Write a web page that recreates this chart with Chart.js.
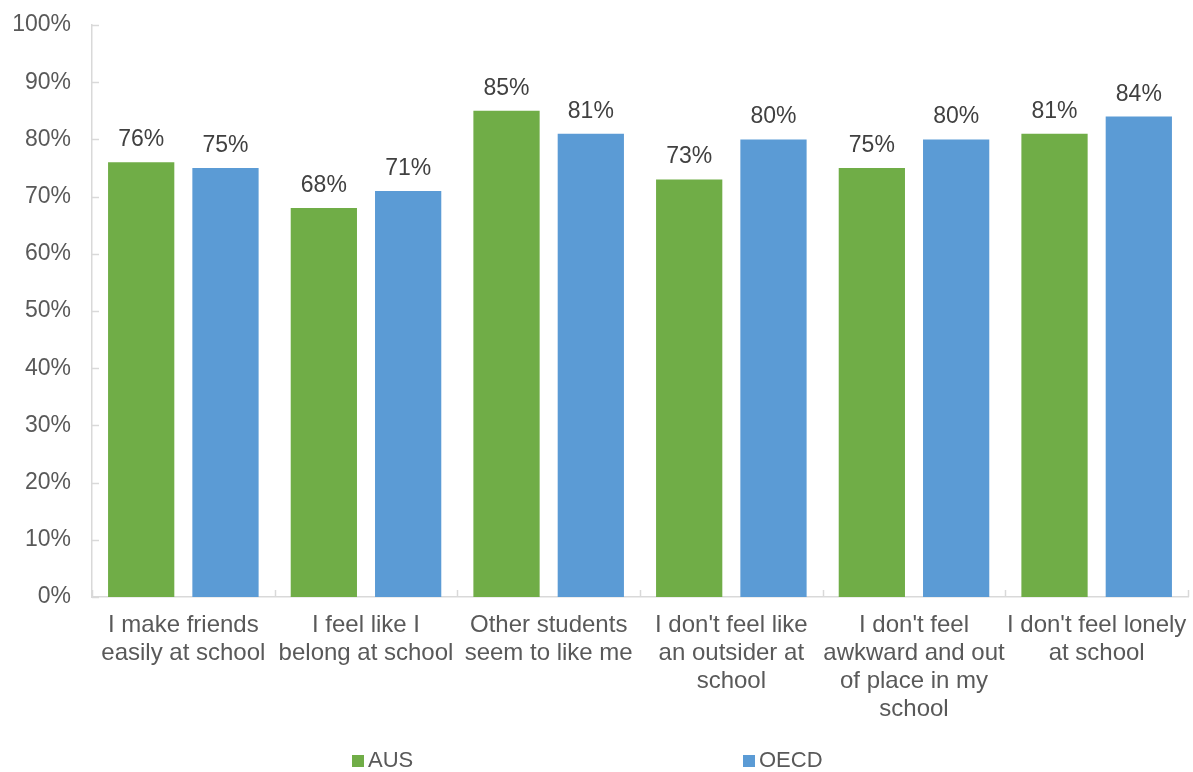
<!DOCTYPE html>
<html>
<head>
<meta charset="utf-8">
<script src="https://cdn.jsdelivr.net/npm/chart.js@4/dist/chart.umd.min.js"></script>
<style>
  html, body { margin: 0; padding: 0; background: #fff; }
  #wrap { width: 1193px; height: 772px; }
</style>
</head>
<body>
<div id="wrap"><canvas id="chart" width="1193" height="772"></canvas></div>
<script>
const categories = [
    ['I make friends', 'easily at school'],
    ['I feel like I', 'belong at school'],
    ['Other students', 'seem to like me'],
    ["I don't feel like", 'an outsider at', 'school'],
    ["I don't feel", 'awkward and out', 'of place in my', 'school'],
    ["I don't feel lonely", 'at school']
];
const ausValues = [76, 68, 85, 73, 75, 81];
const oecdValues = [75, 71, 81, 80, 80, 84];
const yTicks = [0, 10, 20, 30, 40, 50, 60, 70, 80, 90, 100];

const textColor = '#595959';
const axisColor = '#d9d9d9';
const fontFamily = '"Liberation Sans", Arial, sans-serif';

// value labels above each bar
const barLabels = {
    id: 'barLabels',
    afterDatasetsDraw(chart) {
        const ctx = chart.ctx;
        ctx.save();
        ctx.font = '23px ' + fontFamily;
        ctx.fillStyle = '#404040';
        ctx.textAlign = 'center';
        ctx.textBaseline = 'alphabetic';
        chart.data.datasets.forEach((ds, i) => {
            chart.getDatasetMeta(i).data.forEach((bar, j) => {
                ctx.fillText(ds.data[j] + '%', bar.x, bar.y - 16);
            });
        });
        ctx.restore();
    }
};

// small inward tick marks like the original
const innerTicks = {
    id: 'innerTicks',
    afterDraw(chart) {
        const ctx = chart.ctx;
        const y = chart.scales.y;
        const area = chart.chartArea;
        ctx.save();
        ctx.strokeStyle = axisColor;
        ctx.lineWidth = 1.5;
        ctx.beginPath();
        yTicks.forEach(t => {
            const py = Math.round(y.getPixelForValue(t)) + 0.5;
            ctx.moveTo(area.left, py);
            ctx.lineTo(area.left + 7, py);
        });
        for (let i = 0; i <= categories.length; i++) {
            const px = Math.round(area.left + (area.right - area.left) * i / categories.length) + 0.5;
            ctx.moveTo(px, area.bottom);
            ctx.lineTo(px, area.bottom - 7);
        }
        ctx.stroke();
        ctx.restore();
    }
};

// legend with wide spacing between the two entries
const spreadLegend = {
    id: 'spreadLegend',
    afterDraw(chart) {
        const ctx = chart.ctx;
        const starts = [352, 743];
        ctx.save();
        ctx.font = '22px ' + fontFamily;
        ctx.textBaseline = 'middle';
        ctx.textAlign = 'left';
        chart.data.datasets.forEach((ds, i) => {
            ctx.fillStyle = ds.backgroundColor;
            ctx.fillRect(starts[i], 755, 12, 12);
            ctx.fillStyle = textColor;
            ctx.fillText(ds.label, starts[i] + 16, 761);
        });
        ctx.restore();
    }
};

new Chart(document.getElementById('chart'), {
    type: 'bar',
    data: {
        labels: categories,
        datasets: [{
            label: 'AUS',
            data: ausValues,
            backgroundColor: '#70ad47',
            categoryPercentage: 0.923,
            barPercentage: 0.786
        },
        {
            label: 'OECD',
            data: oecdValues,
            backgroundColor: '#5b9bd5',
            categoryPercentage: 0.923,
            barPercentage: 0.786
        }]
    },
    options: {
        responsive: false,
        animation: false,
        layout: {
            padding: { top: 25, right: 5, bottom: 0, left: 0 }
        },
        plugins: {
            legend: { display: false },
            tooltip: { enabled: false }
        },
        scales: {
            x: {
                grid: { display: false, drawTicks: false },
                border: { color: axisColor, width: 1.5 },
                ticks: {
                    color: textColor,
                    font: { family: fontFamily, size: 24, lineHeight: 1.17 },
                    padding: 14,
                    maxRotation: 0,
                    autoSkip: false
                },
                afterFit(scale) {
                    scale.height = 175;
                    scale.paddingLeft = 0;
                    scale.paddingRight = 0;
                }
            },
            y: {
                min: 0,
                max: 100,
                grid: { display: false, drawTicks: false },
                border: { color: axisColor, width: 1.5 },
                ticks: {
                    stepSize: 10,
                    color: textColor,
                    font: { family: fontFamily, size: 23 },
                    padding: 21,
                    callback: v => v + '%'
                },
                afterFit(scale) {
                    scale.width = 92;
                    scale.paddingTop = 0;
                    scale.paddingBottom = 0;
                }
            }
        }
    },
    plugins: [barLabels, innerTicks, spreadLegend]
});
</script>
</body>
</html>
